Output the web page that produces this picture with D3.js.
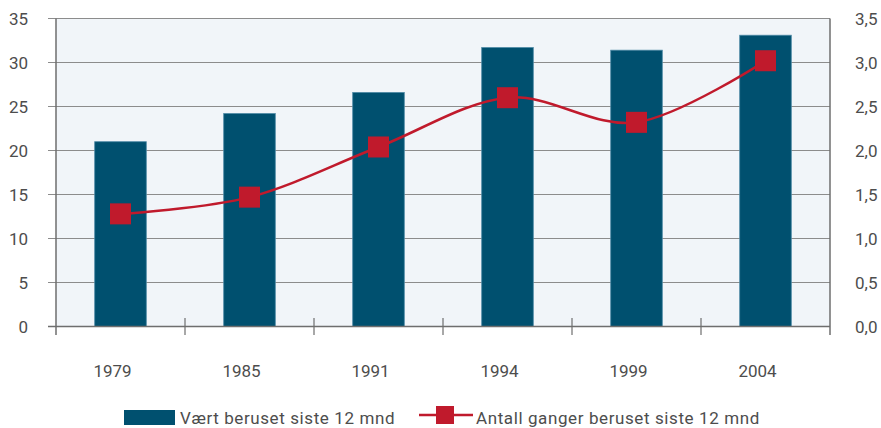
<!DOCTYPE html>
<html>
<head>
<meta charset="utf-8">
<script src="https://cdn.jsdelivr.net/npm/d3@7"></script>
<style>
  html, body { margin: 0; padding: 0; background: #ffffff; }
  svg text { font-family: Roboto, "Liberation Sans", sans-serif; fill: #4d4d4d; }
</style>
</head>
<body>
<svg id="chart" width="881" height="428"></svg>
<script>
// Survey years
const years = ["1979", "1985", "1991", "1994", "1999", "2004"];
// Share who have been drunk in the last 12 months (%), left axis
const druknShare = [21.0, 24.2, 26.6, 31.7, 31.4, 33.1];
// Average number of times drunk in the last 12 months, right axis
const drunkTimes = [1.28, 1.47, 2.04, 2.60, 2.32, 3.02];
// Axis tick values and labels
const leftTicks = [0, 5, 10, 15, 20, 25, 30, 35];
const rightTicks = [0, 0.5, 1, 1.5, 2, 2.5, 3, 3.5];
const seriesNames = ["Vært beruset siste 12 mnd", "Antall ganger beruset siste 12 mnd"];

const svg = d3.select("#chart");
const m = { left: 56, right: 830, top: 18.5, bottom: 326.5 };

const x = d3.scaleBand().domain(years).range([m.left, m.right]).paddingInner(0).paddingOuter(0);
const yL = d3.scaleLinear().domain([0, 35]).range([m.bottom, m.top]);
const yR = d3.scaleLinear().domain([0, 3.5]).range([m.bottom, m.top]);

const gridColor = "#8c8c8c";
const axisColor = "#6e6e6e";
const fs = 17;

// Plot background
svg.append("rect")
  .attr("x", m.left).attr("y", m.top)
  .attr("width", m.right - m.left).attr("height", m.bottom - m.top)
  .attr("fill", "#f1f5f9");

// Horizontal gridlines (extend slightly left as tick marks)
svg.append("g").selectAll("line").data(leftTicks.filter(d => d > 0)).join("line")
  .attr("x1", 48).attr("x2", m.right)
  .attr("y1", d => yL(d)).attr("y2", d => yL(d))
  .attr("stroke", gridColor).attr("stroke-width", 1.2);

// Bars
const bw = x.bandwidth() * 0.4;
svg.append("g").selectAll("rect").data(years).join("rect")
  .attr("x", d => x(d) + x.bandwidth() / 2 - bw / 2)
  .attr("width", bw)
  .attr("y", (d, i) => yL(druknShare[i]))
  .attr("height", (d, i) => yL(0) - yL(druknShare[i]))
  .attr("fill", "#00506f")
  .attr("stroke", "#4f8aa6").attr("stroke-width", 0.8);

// Side borders
svg.append("line").attr("x1", m.left).attr("x2", m.left).attr("y1", m.top).attr("y2", 335)
  .attr("stroke", axisColor).attr("stroke-width", 1.5);
svg.append("line").attr("x1", m.right).attr("x2", m.right).attr("y1", m.top).attr("y2", 335)
  .attr("stroke", axisColor).attr("stroke-width", 1.5);

// Baseline
svg.append("line").attr("x1", 48).attr("x2", m.right).attr("y1", m.bottom).attr("y2", m.bottom)
  .attr("stroke", axisColor).attr("stroke-width", 1.5);

// Category boundary ticks on the baseline
svg.append("g").selectAll("line").data(years.slice(1)).join("line")
  .attr("x1", d => x(d)).attr("x2", d => x(d))
  .attr("y1", 318).attr("y2", 335)
  .attr("stroke", axisColor).attr("stroke-width", 1.2);

// Left axis labels
svg.append("g").selectAll("text").data(leftTicks).join("text")
  .attr("x", 28).attr("y", d => yL(d) + 6)
  .attr("text-anchor", "end").attr("font-size", fs)
  .text(d => d);

// Right axis labels
const fmtR = d => d3.format(".1f")(d).replace(".", ",");
svg.append("g").selectAll("text").data(rightTicks).join("text")
  .attr("x", 855).attr("y", d => yR(d) + 6)
  .attr("text-anchor", "start").attr("font-size", fs)
  .text(fmtR);

// Year labels
svg.append("g").selectAll("text").data(years).join("text")
  .attr("x", d => x(d) + x.bandwidth() / 2 - 8).attr("y", 377)
  .attr("text-anchor", "middle").attr("font-size", fs)
  .text(d => d);

// Smoothed line for number of times drunk
const pts = years.map((d, i) => [x(d) + x.bandwidth() / 2, yR(drunkTimes[i])]);
svg.append("path")
  .attr("d", d3.line().curve(d3.curveCardinal.tension(0))(pts))
  .attr("fill", "none").attr("stroke", "#c01a2c").attr("stroke-width", 2.5);

const sq = 21;
svg.append("g").selectAll("rect").data(pts).join("rect")
  .attr("x", d => d[0] - sq / 2).attr("y", d => d[1] - sq / 2)
  .attr("width", sq).attr("height", sq)
  .attr("fill", "#c01a2c");

// Legend
const lg = svg.append("g");
lg.append("rect").attr("x", 124).attr("y", 410).attr("width", 51).attr("height", 15).attr("fill", "#00506f");
lg.append("text").attr("x", 180).attr("y", 424).attr("font-size", fs)
  .attr("letter-spacing", 0.6).text(seriesNames[0]);
lg.append("line").attr("x1", 419).attr("x2", 473).attr("y1", 415).attr("y2", 415)
  .attr("stroke", "#c01a2c").attr("stroke-width", 2.5);
lg.append("rect").attr("x", 436).attr("y", 406).attr("width", 18).attr("height", 18).attr("fill", "#c01a2c");
lg.append("text").attr("x", 476).attr("y", 424).attr("font-size", fs)
  .attr("letter-spacing", 0.6).text(seriesNames[1]);
</script>
</body>
</html>
